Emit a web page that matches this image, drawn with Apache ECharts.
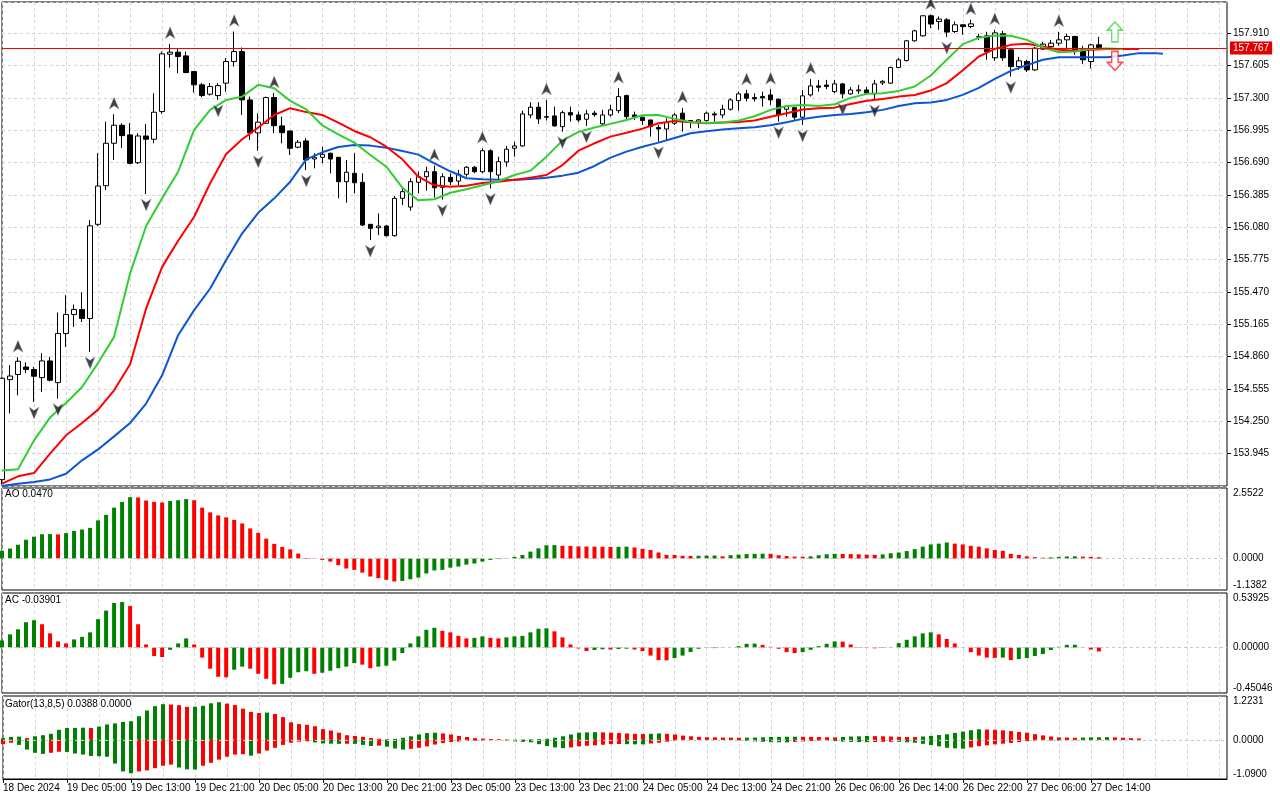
<!DOCTYPE html>
<html><head><meta charset="utf-8">
<script src="https://cdn.jsdelivr.net/npm/echarts@6/dist/echarts.min.js"></script>
<style>html,body{margin:0;padding:0;background:#fff}#c{width:1280px;height:800px}</style>
</head><body><div id="c"></div>
<script>
const xTickLabels = ['18 Dec 2024','19 Dec 05:00','19 Dec 13:00','19 Dec 21:00','20 Dec 05:00','20 Dec 13:00','20 Dec 21:00','23 Dec 05:00','23 Dec 13:00','23 Dec 21:00','24 Dec 05:00','24 Dec 13:00','24 Dec 21:00','26 Dec 06:00','26 Dec 14:00','26 Dec 22:00','27 Dec 06:00','27 Dec 14:00'];
const slotCount = 154;

const open = [153.70,154.643,154.691,154.762,154.738,154.662,154.819,154.615,155.078,155.257,
155.304,155.219,156.107,156.471,156.871,157.041,156.950,156.688,156.940,156.909,
157.170,157.711,157.730,157.695,157.547,157.422,157.334,157.321,157.438,157.642,
157.736,157.280,156.969,157.060,157.302,157.035,156.987,156.834,156.893,156.723,
156.739,156.777,156.739,156.509,156.588,156.503,156.107,156.075,156.091,156.000,
156.352,156.270,156.503,156.556,156.603,156.456,156.550,156.515,156.579,156.645,
156.603,156.801,156.572,156.695,156.824,156.846,157.138,157.211,157.122,157.129,
157.028,157.160,157.138,157.098,157.155,157.054,157.138,157.179,157.321,157.138,
157.117,157.091,157.019,157.006,157.060,157.155,157.085,157.072,157.085,157.148,
157.138,157.192,157.273,157.337,157.302,157.311,157.327,157.287,157.192,157.207,
157.117,157.327,157.412,157.420,157.358,157.431,157.337,157.365,157.374,157.337,
157.440,157.438,157.585,157.651,157.837,157.884,158.073,158.019,158.035,157.925,
157.988,157.972,157.872,157.884,157.677,157.903,157.752,157.594,157.642,157.563,
157.759,157.783,157.815,157.846,157.878,157.752,157.642,157.799];
const high = [154.660,154.780,154.854,154.807,154.762,154.892,154.857,155.276,155.439,155.351,
155.465,156.147,156.777,157.075,157.145,157.060,157.060,156.966,157.054,157.343,
157.736,157.809,157.768,157.736,157.550,157.438,157.438,157.438,157.674,157.925,
157.774,157.311,157.154,157.311,157.346,157.122,156.990,156.902,156.919,156.777,
156.839,156.782,156.740,156.714,156.777,156.588,156.110,156.210,156.100,156.374,
156.462,156.541,156.603,156.650,156.660,156.588,156.588,156.620,156.657,156.657,
156.824,156.815,156.745,156.846,156.886,157.179,157.258,157.258,157.280,157.217,
157.179,157.217,157.170,157.186,157.176,157.186,157.233,157.390,157.330,157.170,
157.122,157.091,157.044,157.107,157.155,157.205,157.091,157.100,157.170,157.170,
157.233,157.296,157.358,157.374,157.343,157.358,157.381,157.290,157.233,157.217,
157.374,157.475,157.469,157.469,157.469,157.440,157.400,157.422,157.400,157.469,
157.469,157.594,157.674,157.846,157.941,158.073,158.085,158.066,158.051,158.019,
157.990,158.035,157.903,157.922,157.941,157.931,157.771,157.686,157.658,157.780,
157.828,157.846,157.922,157.903,157.884,157.790,157.809,157.875];
const low = [153.660,154.325,154.495,154.703,154.432,154.526,154.627,154.464,154.951,155.140,
155.187,154.904,156.091,156.430,156.714,156.824,156.673,156.676,156.393,156.871,
157.148,157.585,157.532,157.532,157.349,157.306,157.321,157.280,157.358,157.594,
157.138,156.903,156.800,157.054,156.966,156.871,156.761,156.824,156.619,156.635,
156.682,156.588,156.352,156.311,156.399,156.093,155.958,156.006,155.990,155.990,
156.289,156.235,156.399,156.424,156.360,156.340,156.478,156.478,156.556,156.588,
156.588,156.446,156.525,156.650,156.745,156.839,157.107,157.054,157.085,157.028,
156.981,157.075,157.070,157.035,157.122,157.044,157.122,157.155,157.091,157.091,
157.044,156.934,156.886,156.902,157.044,156.981,157.013,157.013,157.075,157.075,
157.107,157.179,157.179,157.264,157.264,157.217,157.233,157.075,157.122,157.091,
157.044,157.311,157.358,157.381,157.343,157.296,157.327,157.337,157.327,157.280,
157.420,157.431,157.585,157.642,157.830,157.878,157.957,157.941,157.872,157.910,
157.894,157.957,157.846,157.658,157.648,157.648,157.500,157.563,157.544,157.554,
157.752,157.752,157.790,157.752,157.705,157.620,157.576,157.750];
const close = [154.656,154.677,154.816,154.738,154.675,154.819,154.637,155.078,155.257,155.304,
155.219,156.093,156.468,156.871,157.041,156.943,156.682,156.940,156.909,157.164,
157.714,157.730,157.689,157.538,157.422,157.321,157.406,157.415,157.642,157.736,
157.280,156.969,157.070,157.302,157.037,156.971,156.824,156.881,156.714,156.739,
156.767,156.723,156.509,156.598,156.499,156.100,156.069,156.091,156.000,156.352,
156.415,156.509,156.556,156.603,156.452,156.556,156.509,156.579,156.645,156.603,
156.801,156.603,156.698,156.815,156.846,157.148,157.211,157.101,157.117,157.035,
157.160,157.138,157.091,157.148,157.141,157.138,157.186,157.311,157.122,157.122,
157.085,157.028,157.006,157.066,157.138,157.075,157.072,157.091,157.155,157.138,
157.192,157.280,157.337,157.296,157.290,157.299,157.280,157.138,157.217,157.117,
157.318,157.412,157.400,157.406,157.431,157.337,157.374,157.374,157.343,157.431,
157.455,157.585,157.658,157.837,157.931,158.073,157.995,158.042,157.919,157.988,
157.972,157.997,157.875,157.733,157.912,157.677,157.594,157.648,157.563,157.768,
157.806,157.815,157.846,157.878,157.752,157.658,157.799,157.767];

const lips = [[0,153.787],[2,153.797],[4,154.070],[6,154.285],[8,154.423],[10,154.573],[12,154.800],[14,155.046],[16,155.644],[18,156.091],
[20,156.352],[22,156.603],[24,156.997],[26,157.186],[28,157.280],[30,157.311],[32,157.422],[34,157.390],[36,157.271],[38,157.190],
[40,157.041],[42,156.956],[44,156.877],[46,156.761],[48,156.650],[50,156.452],[52,156.333],[54,156.343],[56,156.405],[58,156.437],
[60,156.475],[62,156.513],[64,156.572],[66,156.613],[68,156.745],[70,156.896],[72,156.978],[74,157.019],[76,157.054],[78,157.091],
[80,157.135],[82,157.138],[84,157.101],[86,157.072],[88,157.063],[90,157.066],[92,157.085],[94,157.126],[96,157.186],[98,157.223],
[100,157.233],[102,157.223],[104,157.239],[106,157.299],[108,157.337],[110,157.343],[112,157.365],[114,157.406],[116,157.510],[118,157.658],
[120,157.806],[122,157.865],[124,157.887],[126,157.884],[128,157.846],[130,157.774],[132,157.730],[134,157.736],[136,157.761],[138,157.764],[140,157.759]];
const teeth = [[0,153.662],[2,153.731],[4,153.762],[6,153.945],[8,154.118],[10,154.234],[12,154.360],[14,154.542],[16,154.788],[18,155.314],
[20,155.706],[22,155.952],[24,156.178],[26,156.494],[28,156.770],[30,156.909],[32,157.019],[34,157.138],[36,157.202],[38,157.165],
[40,157.138],[42,157.066],[44,156.987],[46,156.928],[48,156.839],[50,156.720],[52,156.556],[54,156.475],[56,156.462],[58,156.471],
[60,156.497],[62,156.509],[64,156.528],[66,156.547],[68,156.572],[70,156.666],[72,156.801],[74,156.871],[76,156.934],[78,156.971],
[80,157.009],[82,157.060],[84,157.082],[86,157.069],[88,157.060],[90,157.066],[92,157.072],[94,157.085],[96,157.122],[98,157.155],
[100,157.189],[102,157.202],[104,157.207],[106,157.242],[108,157.273],[110,157.289],[112,157.311],[114,157.327],[116,157.368],[118,157.438],
[120,157.560],[122,157.689],[124,157.761],[126,157.799],[128,157.809],[130,157.783],[132,157.752],[134,157.743],[136,157.752],[138,157.759],[140,157.759],[142,157.759]];
const jaw = [[0,153.639],[2,153.662],[4,153.677],[6,153.702],[8,153.756],[10,153.882],[12,153.985],[14,154.108],[16,154.234],[18,154.417],
[20,154.684],[22,155.062],[24,155.298],[26,155.502],[28,155.770],[30,156.022],[32,156.216],[34,156.352],[36,156.509],[38,156.720],
[40,156.786],[42,156.836],[44,156.855],[46,156.849],[48,156.830],[50,156.799],[52,156.764],[54,156.682],[56,156.607],[58,156.541],
[60,156.531],[62,156.528],[64,156.525],[66,156.534],[68,156.547],[70,156.566],[72,156.594],[74,156.657],[76,156.736],[78,156.792],
[80,156.839],[82,156.877],[84,156.921],[86,156.966],[88,156.985],[90,157.000],[92,157.013],[94,157.022],[96,157.041],[98,157.069],
[100,157.101],[102,157.122],[104,157.138],[106,157.148],[108,157.164],[110,157.186],[112,157.223],[114,157.249],[116,157.255],[118,157.280],
[120,157.327],[122,157.393],[124,157.478],[126,157.554],[128,157.608],[130,157.658],[132,157.683],[134,157.683],[136,157.683],[138,157.683],
[140,157.698],[142,157.721],[144,157.721],[145,157.714]];

const fractalUpBars = [2,14,21,29,34,54,60,68,77,85,93,96,101,116,121,124,132];
const fractalDownBars = [4,7,11,18,27,32,38,46,55,61,70,73,82,97,100,105,109,118,126];
const currentPrice = 157.767;
const signalUp = [139, 157.922];
const signalDown = [139, 157.648];

const ao = [0.28,0.36,0.50,0.68,0.79,0.88,0.885,0.875,0.92,1.00,
1.05,1.11,1.38,1.58,1.84,2.05,2.22,2.21,2.10,2.05,
2.03,2.08,2.11,2.15,2.11,1.84,1.67,1.56,1.49,1.40,
1.27,1.09,0.93,0.72,0.53,0.42,0.33,0.18,0.02,-0.01,
-0.05,-0.11,-0.24,-0.36,-0.41,-0.51,-0.65,-0.71,-0.77,-0.83,
-0.81,-0.75,-0.69,-0.54,-0.43,-0.41,-0.33,-0.29,-0.22,-0.18,
-0.11,-0.05,-0.02,-0.01,0.06,0.13,0.25,0.37,0.48,0.485,
0.46,0.455,0.44,0.435,0.43,0.425,0.42,0.425,0.43,0.40,
0.35,0.31,0.22,0.13,0.128,0.10,0.095,0.10,0.105,0.11,
0.08,0.12,0.14,0.16,0.17,0.175,0.17,0.12,0.09,0.07,
0.065,0.08,0.12,0.155,0.17,0.165,0.16,0.155,0.14,0.135,
0.15,0.19,0.22,0.27,0.34,0.43,0.51,0.54,0.58,0.54,
0.51,0.46,0.43,0.37,0.31,0.28,0.17,0.13,0.08,0.05,
0.03,0.04,0.06,0.075,0.08,0.07,0.06,0.047];
const ac = [0.07,0.13,0.18,0.25,0.27,0.23,0.14,0.06,0.04,0.08,
0.105,0.15,0.28,0.365,0.44,0.45,0.41,0.23,0.03,-0.085,
-0.095,-0.023,0.04,0.09,0.03,-0.10,-0.21,-0.29,-0.295,-0.22,
-0.19,-0.21,-0.26,-0.31,-0.365,-0.36,-0.30,-0.245,-0.235,-0.26,
-0.25,-0.23,-0.205,-0.19,-0.155,-0.17,-0.205,-0.19,-0.18,-0.13,
-0.055,0.04,0.11,0.175,0.195,0.165,0.15,0.115,0.09,0.095,
0.11,0.095,0.09,0.10,0.11,0.115,0.15,0.185,0.19,0.16,
0.10,0.03,-0.01,-0.035,-0.025,-0.018,-0.02,-0.015,-0.012,-0.02,
-0.036,-0.08,-0.125,-0.127,-0.105,-0.08,-0.045,-0.013,-0.004,-0.006,
-0.003,0.0,0.013,0.036,0.038,0.026,0.007,-0.013,-0.046,-0.056,
-0.046,-0.023,0.013,0.036,0.06,0.058,0.03,-0.003,-0.005,-0.008,
-0.004,0.003,0.043,0.076,0.11,0.14,0.15,0.13,0.085,0.04,
-0.003,-0.046,-0.08,-0.10,-0.103,-0.10,-0.125,-0.115,-0.105,-0.085,
-0.065,-0.025,0.007,0.026,0.027,-0.003,-0.02,-0.039];
const gatorUp = [0.05,0.085,0.09,0.05,0.10,0.13,0.17,0.28,0.33,0.335,
0.34,0.33,0.37,0.43,0.46,0.50,0.52,0.66,0.82,0.94,
0.995,0.985,0.967,0.92,0.925,0.95,1.02,1.05,1.01,0.97,
0.87,0.78,0.75,0.76,0.72,0.635,0.49,0.44,0.42,0.38,
0.30,0.26,0.20,0.13,0.11,0.085,0.05,0.03,0.015,0.03,
0.06,0.10,0.15,0.19,0.20,0.18,0.15,0.11,0.08,0.05,
0.035,0.025,0.02,0.01,0.005,0.01,0.015,0.02,0.03,0.06,
0.10,0.15,0.20,0.21,0.215,0.21,0.20,0.19,0.18,0.17,
0.165,0.17,0.18,0.17,0.15,0.12,0.10,0.085,0.075,0.07,
0.066,0.062,0.06,0.062,0.065,0.072,0.08,0.084,0.087,0.088,
0.086,0.083,0.08,0.075,0.07,0.08,0.094,0.10,0.11,0.105,
0.10,0.094,0.088,0.082,0.078,0.095,0.113,0.135,0.158,0.195,
0.233,0.27,0.296,0.29,0.283,0.265,0.245,0.22,0.20,0.16,
0.125,0.095,0.07,0.065,0.06,0.065,0.07,0.074,0.076,0.07,
0.06,0.05,0.04];
const gatorDown = [0.12,0.08,0.14,0.27,0.36,0.39,0.36,0.33,0.335,0.38,
0.41,0.45,0.455,0.47,0.66,0.88,0.93,0.88,0.85,0.79,
0.72,0.69,0.77,0.82,0.825,0.72,0.64,0.55,0.47,0.41,
0.40,0.44,0.38,0.30,0.22,0.14,0.08,0.05,0.04,0.07,
0.10,0.105,0.11,0.108,0.11,0.14,0.17,0.16,0.19,0.24,
0.27,0.25,0.22,0.18,0.13,0.09,0.06,0.045,0.03,0.025,
0.02,0.01,0.004,0.02,0.044,0.055,0.066,0.12,0.17,0.21,
0.23,0.21,0.18,0.165,0.15,0.135,0.12,0.115,0.12,0.125,
0.126,0.10,0.078,0.05,0.02,0.01,0.003,0.004,0.003,0.002,
0.001,0.006,0.013,0.027,0.041,0.052,0.064,0.066,0.068,0.056,
0.044,0.03,0.021,0.026,0.032,0.045,0.057,0.061,0.064,0.059,
0.054,0.053,0.054,0.066,0.079,0.11,0.142,0.18,0.22,0.235,
0.246,0.21,0.176,0.15,0.126,0.105,0.085,0.06,0.037,0.02,
0.009,0.015,0.022,0.014,0.007,0.008,0.009,0.007,0.005,0.003,0.001];

const FONT = 'Liberation Sans';
const G = '#008000', R = '#ff0000';
const cats = Array.from({length: slotCount}, (_, i) => String(i));
const candles = open.map((o, i) => [o, close[i], low[i], high[i]]);

function colorize(vals, firstColor, sign) {
  return vals.map((v, i) => ({
    value: sign * v,
    itemStyle: {color: i === 0 ? firstColor : (v > vals[i - 1] ? G : R)}
  }));
}
const every8 = (idx) => idx % 8 === 0 && idx / 8 < xTickLabels.length;
const every4 = (idx) => idx % 4 === 0;
const near = (a, b) => Math.abs(a - b) < 1e-6;

function xAx(g) {
  const last = g === 3;
  return {
    type: 'category', gridIndex: g, data: cats, boundaryGap: false,
    axisLine: {show: last, onZero: false, lineStyle: {color: '#000'}},
    axisTick: {show: last, interval: every8, length: 4, lineStyle: {color: '#000'}},
    axisLabel: {show: last, interval: every8, align: 'left', margin: 4, fontSize: 10, color: '#000', fontFamily: FONT,
      formatter: (v) => xTickLabels[Number(v) / 8] || ''},
    splitLine: {show: true, interval: every4, lineStyle: {color: '#d4d4d4', type: [3, 3], width: 1}}
  };
}
function indY(g, mn, mx, iv, dec) {
  return {
    type: 'value', gridIndex: g, position: 'right', min: mn, max: mx, interval: iv,
    axisLine: {show: false}, axisTick: {show: false}, splitLine: {show: false},
    axisLabel: {show: true, showMinLabel: true, showMaxLabel: true, margin: 6, fontSize: 10, color: '#000', fontFamily: FONT,
      verticalAlignMaxLabel: 'top', verticalAlignMinLabel: 'bottom',
      formatter: (v) => near(v, 0) ? (0).toFixed(dec) : near(v, mn) ? mn.toFixed(dec) : near(v, mx) ? mx.toFixed(dec) : ''}
  };
}
const zeroLine = {silent: true, symbol: ['none', 'none'], label: {show: false},
  lineStyle: {color: '#c8c8c8', type: [3, 3], width: 1}, data: [{yAxis: 0}]};

const gridBase = {left: 2, right: 53, show: true, borderColor: '#000', borderWidth: 1, backgroundColor: '#fff'};
const option = {
  animation: false,
  backgroundColor: '#fff',
  textStyle: {fontFamily: FONT},
  title: [
    {text: 'AO 0.0470', left: 5, top: 489, padding: 0, textStyle: {fontSize: 10, fontWeight: 'normal', color: '#000', fontFamily: FONT}},
    {text: 'AC -0.03901', left: 5, top: 595, padding: 0, textStyle: {fontSize: 10, fontWeight: 'normal', color: '#000', fontFamily: FONT}},
    {text: 'Gator(13,8,5) 0.0388 0.0000', left: 5, top: 699, padding: 0, textStyle: {fontSize: 10, fontWeight: 'normal', color: '#000', fontFamily: FONT}}
  ],
  grid: [
    Object.assign({top: 2, height: 484}, gridBase),
    Object.assign({top: 488, height: 102}, gridBase),
    Object.assign({top: 593, height: 100}, gridBase),
    Object.assign({top: 696, height: 83}, gridBase)
  ],
  xAxis: [xAx(0), xAx(1), xAx(2), xAx(3)],
  yAxis: [
    {type: 'value', gridIndex: 0, position: 'right', min: 153.640, max: 158.203, interval: 0.305,
      axisLine: {show: false}, axisTick: {show: true, length: 4, lineStyle: {color: '#000'}},
      axisLabel: {showMinLabel: false, showMaxLabel: false, margin: 6, fontSize: 10, color: '#000', fontFamily: FONT,
        formatter: (v) => v.toFixed(3)},
      splitLine: {show: true, lineStyle: {color: '#d4d4d4', type: [3, 3], width: 1}}},
    indY(1, -1.1382, 2.5522, 1.1382, 4),
    indY(2, -0.45046, 0.53925, 0.45046, 5),
    indY(3, -1.0900, 1.2231, 1.0900, 4)
  ],
  series: [
    {type: 'candlestick', xAxisIndex: 0, yAxisIndex: 0, data: candles, barWidth: 5, clip: true, z: 2,
      itemStyle: {color: '#ffffff', color0: '#000000', borderColor: '#000000', borderColor0: '#000000', borderWidth: 1},
      markLine: {silent: true, symbol: ['none', 'none'], z: 10,
        lineStyle: {color: '#ff0000', type: 'solid', width: 1},
        label: {show: true, position: 'end', distance: 3, formatter: currentPrice.toFixed(3), color: '#fff',
          backgroundColor: '#e00000', padding: [2, 3, 1, 3], fontSize: 10, fontFamily: FONT},
        data: [{yAxis: currentPrice}]}},
    {type: 'line', xAxisIndex: 0, yAxisIndex: 0, data: jaw, symbol: 'none', z: 3, lineStyle: {color: '#0b55d6', width: 2}},
    {type: 'line', xAxisIndex: 0, yAxisIndex: 0, data: teeth, symbol: 'none', z: 3, lineStyle: {color: '#ff0000', width: 2}},
    {type: 'line', xAxisIndex: 0, yAxisIndex: 0, data: lips, symbol: 'none', z: 3, lineStyle: {color: '#32cd32', width: 2}},
    {type: 'scatter', xAxisIndex: 0, yAxisIndex: 0, z: 4, data: fractalUpBars.map(i => [i, high[i]]),
      symbol: 'path://M6,0 L12,14 L6,10 L0,14 Z', symbolSize: [10, 12], symbolOffset: [0, -11],
      itemStyle: {color: '#141414', borderColor: '#9aa6c8', borderWidth: 0.5}},
    {type: 'scatter', xAxisIndex: 0, yAxisIndex: 0, z: 4, data: fractalDownBars.map(i => [i, low[i]]),
      symbol: 'path://M0,0 L6,4 L12,0 L6,14 Z', symbolSize: [10, 12], symbolOffset: [0, 11],
      itemStyle: {color: '#141414', borderColor: '#9aa6c8', borderWidth: 0.5}},
    {type: 'scatter', xAxisIndex: 0, yAxisIndex: 0, z: 5, data: [signalUp],
      symbol: 'path://M7,0 L14,8 L10,8 L10,19 L4,19 L4,8 L0,8 Z', symbolSize: [15, 20],
      itemStyle: {color: '#ffffff', borderColor: '#4cd04c', borderWidth: 1.5}},
    {type: 'scatter', xAxisIndex: 0, yAxisIndex: 0, z: 5, data: [signalDown],
      symbol: 'path://M4,0 L10,0 L10,11 L14,11 L7,19 L0,11 L4,11 Z', symbolSize: [15, 19],
      itemStyle: {color: '#ffffff', borderColor: '#ff2020', borderWidth: 1.5}},
    {type: 'bar', xAxisIndex: 1, yAxisIndex: 1, barWidth: 4, data: colorize(ao, G, 1), markLine: zeroLine},
    {type: 'bar', xAxisIndex: 2, yAxisIndex: 2, barWidth: 4, data: colorize(ac, G, 1), markLine: zeroLine},
    {type: 'bar', xAxisIndex: 3, yAxisIndex: 3, barWidth: 4, barGap: '-100%', data: colorize(gatorUp, G, 1), markLine: zeroLine},
    {type: 'bar', xAxisIndex: 3, yAxisIndex: 3, barWidth: 4, barGap: '-100%', data: colorize(gatorDown, R, -1)}
  ]
};
const chart = echarts.init(document.getElementById('c'), null, {renderer: 'canvas'});
chart.setOption(option);
</script>
</body></html>
